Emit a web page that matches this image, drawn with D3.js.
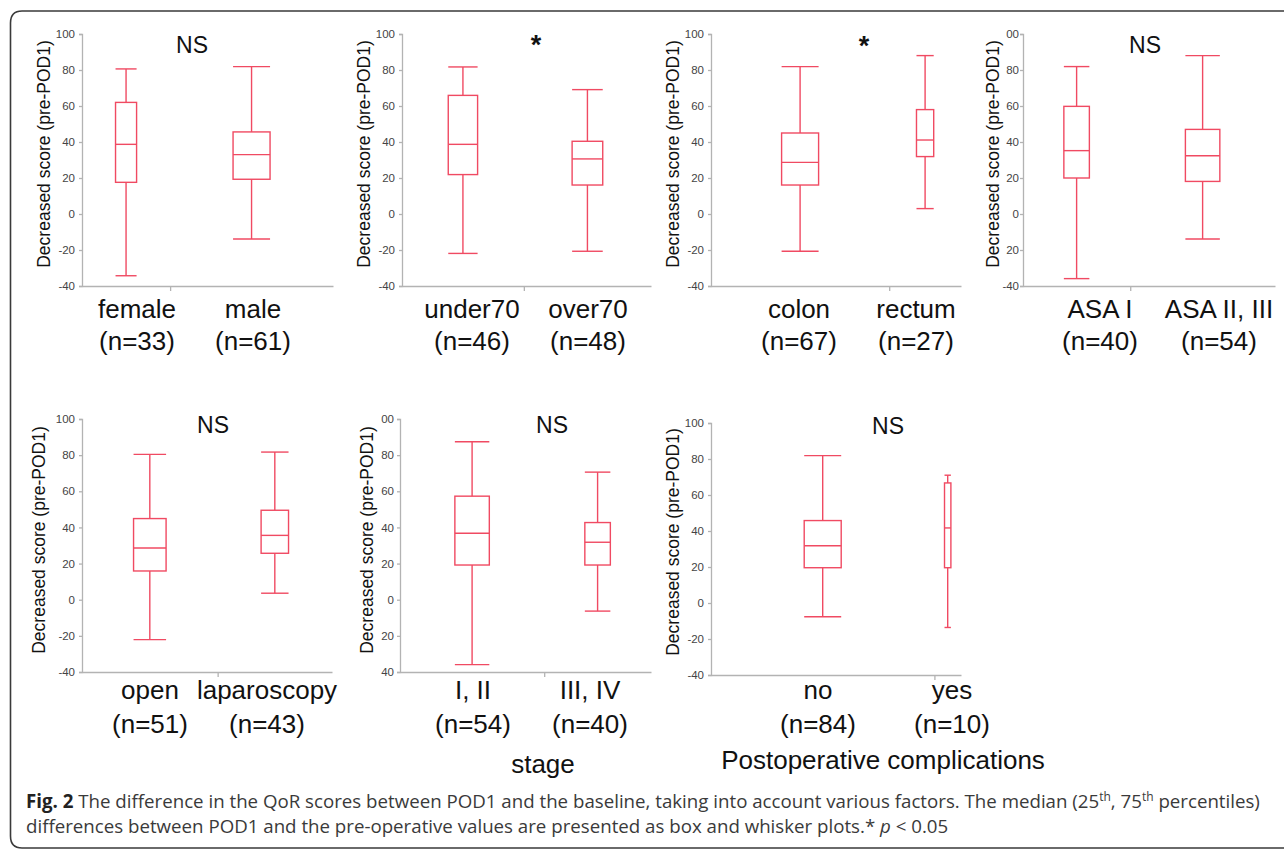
<!DOCTYPE html>
<html>
<head>
<meta charset="utf-8">
<script src="https://cdn.jsdelivr.net/npm/d3@7"></script>
<style>
  body { margin: 0; background: #fff; }
  svg { display: block; }
  .axis path, .axis line { stroke: #b3b3b3; stroke-width: 1.3; }
  .axis text { font-family: "Liberation Sans Narrow", "Liberation Sans", Arial, sans-serif; font-size: 11.5px; fill: #444; }
  .box { fill: none; stroke: #f04a62; stroke-width: 1.4; }
  .cat { font-family: "Liberation Sans", Arial, sans-serif; font-size: 26px; fill: #111; text-anchor: middle; }
  .ylab { font-family: "Liberation Sans", Arial, sans-serif; font-size: 17.5px; fill: #111; text-anchor: middle; }
  .sig { font-family: "Liberation Sans", Arial, sans-serif; font-size: 23px; fill: #111; text-anchor: middle; }
  .star { font-size: 27px; font-weight: bold; }
  .cap { font-family: "Open Sans", sans-serif; font-size: 18.7px; fill: #3a3a3a; }
</style>
</head>
<body>
<svg id="fig" width="1284" height="851"></svg>
<script>
// dati (box plot: baffo basso, Q1, mediana, Q3, baffo alto)
const groupLabels = [
  ["female", "male"], ["under70", "over70"], ["colon", "rectum"], ["ASA I", "ASA II, III"],
  ["open", "laparoscopy"], ["I, II", "III, IV"], ["no", "yes"]
];
const groupN = [[33, 61], [46, 48], [67, 27], [40, 54], [51, 43], [54, 40], [84, 10]];
const whiskerLow = [[-34.3, -13.9], [-21.9, -20.7], [-20.7, 3.0], [-35.9, -13.9], [-22.1, 3.6], [-35.9, -6.3], [-7.6, -13.6]];
const q1 = [[17.6, 19.3], [21.9, 16.1], [16.1, 31.9], [20.0, 18.1], [15.9, 25.7], [19.2, 19.2], [19.6, 19.6]];
const medians = [[38.7, 33.0], [38.7, 30.6], [28.7, 41.1], [35.2, 32.4], [28.6, 35.6], [36.8, 31.8], [31.8, 41.7]];
const q3 = [[62.0, 45.6], [65.9, 40.4], [45.0, 58.0], [59.8, 47.0], [44.9, 49.5], [57.3, 42.7], [45.8, 66.7]];
const whiskerHigh = [[80.6, 81.9], [81.7, 69.1], [81.9, 88.0], [81.9, 88.0], [80.4, 81.7], [87.4, 70.6], [81.9, 71.0]];
const significance = ["NS", "*", "*", "NS", "NS", "NS", "NS"];
const axisTitles = ["", "", "", "", "", "stage", "Postoperative complications"];
const yTicks = [-40, -20, 0, 20, 40, 60, 80, 100];
const yTickLabels = ["-40", "-20", "0", "20", "40", "60", "80", "100"];
// in due pannelli le etichette sono tagliate a sinistra nell'originale
const yTickLabelsCut4 = ["-40", "20", "0", "20", "40", "60", "80", "00"];
const yTickLabelsCut6 = ["40", "20", "0", "20", "40", "60", "80", "00"];
const yTitle = "Decreased score (pre-POD1)";

// layout dei pannelli
const panels = [
  { x0: 82, x1: 333, top: 34, bot: 286, sigX: 192, sigY: 53, yl: -32, ylY: 154, labX: [137, 253], catY: 318, nY: 350, ticks: yTickLabels, pad: 4 },
  { x0: 402, x1: 651, top: 34, bot: 286, sigX: 536, sigY: 54, yl: -32, ylY: 154, labX: [472, 588], catY: 318, nY: 350, ticks: yTickLabels, pad: 4 },
  { x0: 711, x1: 961, top: 34, bot: 286, sigX: 864, sigY: 55, yl: -32, ylY: 154, labX: [799, 916], catY: 318, nY: 350, ticks: yTickLabels, pad: 4 },
  { x0: 1023, x1: 1275, top: 34, bot: 286, sigX: 1145, sigY: 53, yl: -24, ylY: 154, labX: [1100, 1219], catY: 318, nY: 350, ticks: yTickLabelsCut4, pad: 1 },
  { x0: 82, x1: 332, top: 419, bot: 672, sigX: 213, sigY: 433, yl: -37, ylY: 540, labX: [150, 267], catY: 699, nY: 733, ticks: yTickLabels, pad: 4 },
  { x0: 400, x1: 651, top: 419, bot: 672, sigX: 552, sigY: 433, yl: -27, ylY: 540, labX: [473, 590], catY: 699, nY: 733, ticks: yTickLabelsCut6, pad: 3, titleX: 543, titleY: 773 },
  { x0: 711, x1: 961, top: 423, bot: 675, sigX: 888, sigY: 434, yl: -32, ylY: 542, labX: [818, 952], catY: 699, nY: 733, ticks: yTickLabels, pad: 4, titleX: 883, titleY: 769 }
];

const svg = d3.select("#fig");

// cornice della figura
svg.append("path")
  .attr("d", "M1290,11 H22 Q10.5,11 10.5,23 V836 Q10.5,848 22,848 H1290")
  .attr("fill", "none").attr("stroke", "#3a3a3a").attr("stroke-width", 1.6);

// larghezza box proporzionale a n (con limite), come nell'originale
const boxW = d3.scaleLinear().domain([0, 58]).range([0, 37]).clamp(true);

panels.forEach((p, i) => {
  const g = svg.append("g");
  const ns = groupN[i];
  const total = d3.sum(ns);

  const y = d3.scaleLinear().domain([-40, 100]).range([p.bot, p.top]);
  const x = d3.scaleLinear().domain([0, total]).range([p.x0, p.x1]);

  // asse Y
  g.append("g").attr("class", "axis")
    .attr("transform", `translate(${p.x0},0)`)
    .call(d3.axisLeft(y).tickValues(yTicks).tickSize(3).tickPadding(p.pad)
      .tickFormat((d, k) => p.ticks[k]));

  // asse X (senza etichette, tick di separazione tra i gruppi)
  g.append("g").attr("class", "axis")
    .attr("transform", `translate(0,${p.bot})`)
    .call(d3.axisBottom(x).tickValues([ns[0]]).tickSize(5).tickSizeOuter(0).tickFormat(""));

  // titolo Y ruotato
  g.append("text").attr("class", "ylab")
    .attr("transform", `translate(${p.x0 + p.yl},${p.ylY}) rotate(-90)`)
    .text(yTitle);

  // significativitÃ 
  g.append("text").attr("class", significance[i] === "*" ? "sig star" : "sig")
    .attr("x", p.sigX).attr("y", p.sigY)
    .text(significance[i]);

  // box plot
  let cum = 0;
  ns.forEach((n, k) => {
    const cx = x(cum + n / 2);
    cum += n;
    const w = boxW(n);
    const lo = y(whiskerLow[i][k]), hi = y(whiskerHigh[i][k]);
    const b1 = y(q1[i][k]), b3 = y(q3[i][k]), md = y(medians[i][k]);

    g.append("line").attr("class", "box")
      .attr("x1", cx).attr("x2", cx).attr("y1", hi).attr("y2", b3);
    g.append("line").attr("class", "box")
      .attr("x1", cx).attr("x2", cx).attr("y1", b1).attr("y2", lo);
    [hi, lo, md].forEach((yy) => {
      g.append("line").attr("class", "box")
        .attr("x1", cx - w / 2).attr("x2", cx + w / 2).attr("y1", yy).attr("y2", yy);
    });
    g.append("rect").attr("class", "box")
      .attr("x", cx - w / 2).attr("y", b3).attr("width", w).attr("height", b1 - b3);

    // etichette gruppo
    g.append("text").attr("class", "cat")
      .attr("x", p.labX[k]).attr("y", p.catY).text(groupLabels[i][k]);
    g.append("text").attr("class", "cat")
      .attr("x", p.labX[k]).attr("y", p.nY).text(`(n=${n})`);
  });

  if (axisTitles[i]) {
    g.append("text").attr("class", "cat")
      .attr("x", p.titleX).attr("y", p.titleY).text(axisTitles[i]);
  }
});

// didascalia
const cap1 = svg.append("text").attr("class", "cap").attr("x", 26).attr("y", 808);
cap1.append("tspan").attr("font-weight", "bold").attr("fill", "#222").text("Fig. 2");
cap1.append("tspan").text(" The difference in the QoR scores between POD1 and the baseline, taking into account various factors. The median (25");
cap1.append("tspan").attr("font-size", "12px").attr("dy", -7).text("th");
cap1.append("tspan").attr("dy", 7).text(", 75");
cap1.append("tspan").attr("font-size", "12px").attr("dy", -7).text("th");
cap1.append("tspan").attr("dy", 7).text(" percentiles)");

const cap2 = svg.append("text").attr("class", "cap").attr("x", 26).attr("y", 833);
cap2.append("tspan").text("differences between POD1 and the pre-operative values are presented as box and whisker plots.* ");
cap2.append("tspan").attr("font-style", "italic").text("p");
cap2.append("tspan").text(" < 0.05");
</script>
</body>
</html>
